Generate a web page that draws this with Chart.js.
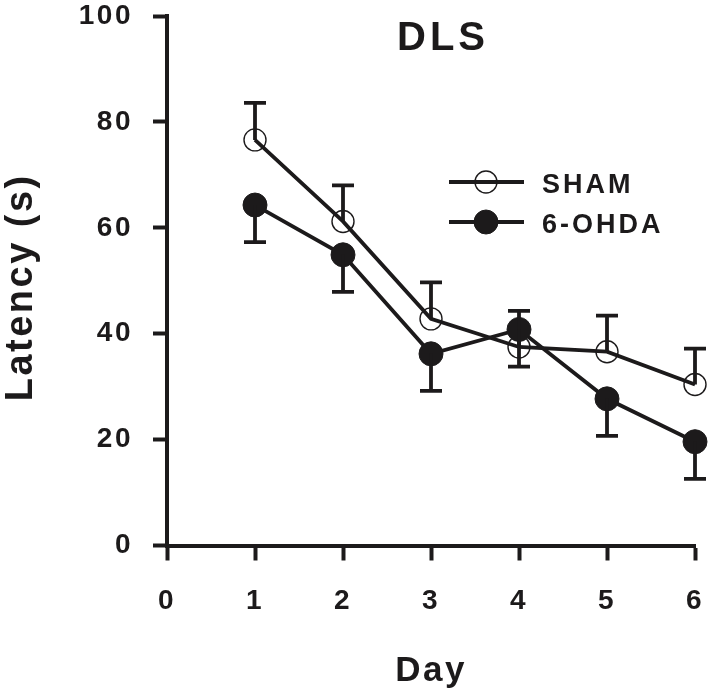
<!DOCTYPE html>
<html><head><meta charset="utf-8">
<script src="https://cdn.jsdelivr.net/npm/chart.js@4.4.0/dist/chart.umd.min.js"></script>
<style>html,body{margin:0;padding:0;background:#fff;} canvas{display:block;}</style>
</head><body>
<canvas id="c" width="714" height="699"></canvas>
<script>
// ---- data ----
const days = [1, 2, 3, 4, 5, 6];
const shamMean = [76.6, 61.2, 42.8, 37.5, 36.6, 30.4];
const shamErr  = [7.0, 6.8, 6.9, 6.8, 6.8, 6.8];
const ohdaMean = [64.3, 54.9, 36.2, 40.8, 27.7, 19.6];
const ohdaErr  = [7.0, 7.0, 7.0, 7.0, 7.0, 7.0];
const seriesNames = ['SHAM', '6-OHDA'];
const xTicks = [0, 1, 2, 3, 4, 5, 6];
const yTicks = [0, 20, 40, 60, 80, 100];
const titleText = 'DLS';
const xTitle = 'Day';
const yTitle = 'Latency (s) ';

// ---- style ----
const INK = '#1c1a1b';
const FONT = "'Liberation Sans', Arial, Helvetica, sans-serif";

const spacingPlugin = {
  id: 'spacing',
  beforeUpdate(chart) { chart.ctx.letterSpacing = '2.5px'; },
  beforeDraw(chart) { chart.ctx.letterSpacing = '2.5px'; }
};

const errorBars = {
  id: 'errorBars',
  afterDatasetsDraw(chart) {
    const ctx = chart.ctx, xs = chart.scales.x, ys = chart.scales.y;
    chart.data.datasets.forEach(ds => {
      ctx.save();
      ctx.strokeStyle = INK; ctx.lineWidth = 3.8; ctx.lineCap = 'butt';
      ds.data.forEach((p, i) => {
        const x = xs.getPixelForValue(p.x);
        const y0 = ys.getPixelForValue(p.y);
        const y1 = ys.getPixelForValue(p.y + ds.errDir * ds.errors[i]);
        ctx.beginPath();
        ctx.moveTo(x, y0); ctx.lineTo(x, y1);
        ctx.moveTo(x - 11, y1); ctx.lineTo(x + 11, y1);
        ctx.stroke();
      });
      ctx.restore();
    });
  }
};

const decorations = {
  id: 'decorations',
  afterDraw(chart) {
    const ctx = chart.ctx;
    // title
    ctx.save();
    ctx.letterSpacing = '4px';
    ctx.fillStyle = INK;
    ctx.font = `bold 40px ${FONT}`;
    ctx.textAlign = 'left'; ctx.textBaseline = 'alphabetic';
    ctx.fillText(titleText, 397, 50);
    ctx.restore();
    // legend
    const rows = [{ y: 182, base: 193.3 }, { y: 222, base: 233.3 }];
    chart.data.datasets.forEach((ds, i) => {
      const r = rows[i];
      ctx.save();
      ctx.strokeStyle = INK; ctx.lineWidth = 3.8;
      ctx.beginPath(); ctx.moveTo(449, r.y); ctx.lineTo(524, r.y); ctx.stroke();
      ctx.beginPath(); ctx.arc(486, r.y, ds.pointRadius, 0, Math.PI * 2);
      if (ds.pointBackgroundColor !== 'rgba(0,0,0,0)') { ctx.fillStyle = INK; ctx.fill(); }
      ctx.lineWidth = ds.pointBorderWidth; ctx.stroke();
      ctx.letterSpacing = '3px';
      ctx.fillStyle = INK;
      ctx.font = `bold 27px ${FONT}`;
      ctx.textAlign = 'left'; ctx.textBaseline = 'alphabetic';
      ctx.fillText(ds.label, 542, r.base);
      ctx.restore();
    });
  }
};

const tickFont = { family: FONT, size: 28, weight: 'bold', lineHeight: 1 };

new Chart(document.getElementById('c'), {
  type: 'line',
  data: {
    datasets: [
      {
        label: seriesNames[0],
        data: days.map((d, i) => ({ x: d, y: shamMean[i] })),
        errors: shamErr, errDir: 1,
        borderColor: INK, borderWidth: 3.8,
        pointRadius: 11, pointBorderWidth: 1.4,
        pointBackgroundColor: 'rgba(0,0,0,0)', pointBorderColor: INK,
        tension: 0, clip: false, order: 1
      },
      {
        label: seriesNames[1],
        data: days.map((d, i) => ({ x: d, y: ohdaMean[i] })),
        errors: ohdaErr, errDir: -1,
        borderColor: INK, borderWidth: 3.8,
        pointRadius: 12, pointBorderWidth: 1,
        pointBackgroundColor: INK, pointBorderColor: INK,
        tension: 0, clip: false, order: 0
      }
    ]
  },
  options: {
    responsive: false,
    animation: false,
    events: [],
    devicePixelRatio: 1,
    layout: { padding: { top: 16, right: 19, left: 0, bottom: 0 } },
    plugins: { legend: { display: false }, tooltip: { enabled: false }, title: { display: false } },
    scales: {
      x: {
        type: 'linear', min: 0, max: 6,
        afterBuildTicks: s => { s.ticks = xTicks.map(v => ({ value: v })); },
        afterFit: s => { s.height = 153.5; s.paddingLeft = 0; s.paddingRight = 0; },
        grid: { drawOnChartArea: false, drawTicks: true, tickLength: 15, tickWidth: 4, tickColor: INK, color: INK },
        border: { display: true, width: 4, color: INK },
        ticks: { color: INK, font: tickFont, padding: 27, maxRotation: 0, autoSkip: false },
        title: { display: true, text: xTitle, color: INK,
                 font: { family: FONT, size: 35, weight: 'bold', lineHeight: 1 },
                 padding: { top: 0, bottom: 10 } }
      },
      y: {
        type: 'linear', min: 0, max: 100,
        afterBuildTicks: s => { s.ticks = yTicks.map(v => ({ value: v })); },
        afterFit: s => { s.width = 167; s.paddingTop = 0; s.paddingBottom = 0; },
        grid: { drawOnChartArea: false, drawTicks: true, tickLength: 14, tickWidth: 4, tickColor: INK, color: INK },
        border: { display: true, width: 4, color: INK },
        ticks: { color: INK, font: tickFont, padding: 20 },
        title: { display: true, text: yTitle, color: INK,
                 font: { family: FONT, size: 38, weight: 'bold', lineHeight: 1 },
                 padding: { top: 2.5, bottom: 0 } }
      }
    }
  },
  plugins: [spacingPlugin, errorBars, decorations]
});
</script>
</body></html>
